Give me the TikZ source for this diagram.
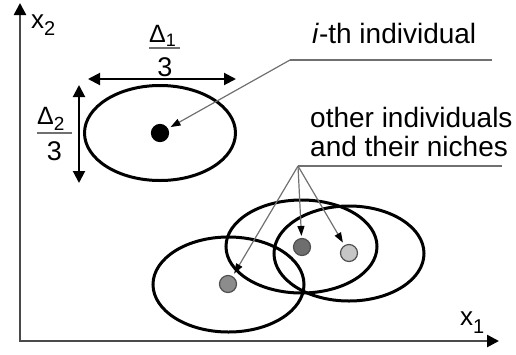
\documentclass[tikz,border=0pt]{standalone}
\usepackage{fontspec}
\setmainfont{Liberation Sans}
\usetikzlibrary{arrows.meta}
\definecolor{axisgray}{HTML}{4A4A4A}
\definecolor{leadgray}{HTML}{707070}
\definecolor{dotA}{HTML}{8C8C8C}
\definecolor{dotB}{HTML}{6E6E6E}
\definecolor{dotC}{HTML}{C6C6C6}
\definecolor{dotline}{HTML}{505050}
\begin{document}
\begin{tikzpicture}[x=1pt,y=-1pt,
  bigtip/.tip={Triangle[length=12pt,width=12pt,color=black]},
  smalltip/.tip={Triangle[length=10pt,width=7pt,color=black]},
  axisline/.style={line width=2.5pt, draw=axisgray, bigtip-bigtip, line join=miter},
  dimarrow/.style={line width=2pt, draw=black, bigtip-bigtip},
  leader/.style={line width=1.2pt, draw=leadgray},
  niche/.style={line width=3pt, draw=black},
  lbl/.style={inner sep=0pt, font=\fontsize{28}{29}\selectfont},
  axlbl/.style={inner sep=0pt, font=\fontsize{26}{26}\selectfont},
  fraclbl/.style={inner sep=0pt, font=\fontsize{25}{25}\selectfont},
  fracden/.style={inner sep=0pt, font=\fontsize{27}{27}\selectfont},
  fracbar/.style={line width=1.2pt, draw=leadgray},
  dot/.style={circle, inner sep=0pt, minimum size=17pt, line width=1.2pt, draw=dotline}
]
\useasboundingbox (0,0) rectangle (516,354);

% axes
\coordinate (ytop) at (20,3);
\coordinate (O) at (20,341);
\coordinate (xend) at (499,341);
\draw[axisline] (ytop) -- (O) -- (xend);
\node[axlbl, anchor=base west] (lx2) at (31,28) {x\raisebox{-7pt}{\fontsize{20}{20}\selectfont 2}};
\node[axlbl, anchor=base west] (lx1) at (460,325) {x\raisebox{-8pt}{\fontsize{20}{20}\selectfont 1}};

% i-th individual niche
\draw[niche] (160,133) ellipse [x radius=75.5pt, y radius=47.5pt];
\node[dot, fill=black, draw=black] (idot) at (160,133) {};

% dimension arrows
\coordinate (hL) at (88,79);
\coordinate (hR) at (236,79);
\draw[dimarrow] (hL) -- (hR);
\coordinate (vT) at (79,85);
\coordinate (vB) at (79,183);
\draw[dimarrow] (vT) -- (vB);

% fraction Delta1/3
\node[fraclbl, anchor=base west] (d1num) at (149,42) {Δ\raisebox{-4pt}{\fontsize{18}{18}\selectfont 1}};
\coordinate (b1L) at (149,48);
\coordinate (b1R) at (180,48);
\draw[fracbar] (b1L) -- (b1R);
\node[fracden, anchor=base] (d1den) at (165,76) {3};

% fraction Delta2/3
\node[fraclbl, anchor=base west] (d2num) at (37,124) {Δ\raisebox{-6pt}{\fontsize{19}{19}\selectfont 2}};
\coordinate (b2L) at (37,133);
\coordinate (b2R) at (72,133);
\draw[fracbar] (b2L) -- (b2R);
\node[fracden, anchor=base] (d2den) at (54.5,160) {3};

% other niches
\draw[niche] (228.5,284.5) ellipse [x radius=75.5pt, y radius=47.5pt];
\draw[niche] (301.5,246.5) ellipse [x radius=75.5pt, y radius=46.5pt];
\draw[niche] (349,253.5) ellipse [x radius=75pt, y radius=47.5pt];
\node[dot, fill=dotA] (dA) at (228,284) {};
\node[dot, fill=dotB] (dB) at (302,247) {};
\node[dot, fill=dotC] (dC) at (349,253) {};

% labels
\node[lbl, anchor=base west] (ith) at (312,43) {\textit{i}-th individual};
\node[lbl, anchor=north west, align=left] (oth) at (310,107) {other individuals\\and their niches};

% leaders
\coordinate (iR) at (492,60);
\coordinate (iL) at (290,60);
\draw[leader] (iR) -- (iL);
\draw[leader, -smalltip, shorten >=3pt] (iL) -- (idot);
\coordinate (oR) at (502,166);
\coordinate (oL) at (298,166);
\draw[leader] (oR) -- (oL);
\draw[leader, -smalltip, shorten >=3pt] (oL) -- (dA);
\draw[leader, -smalltip, shorten >=2pt] (oL) -- (dB);
\draw[leader, -smalltip, shorten >=3pt] (oL) -- (dC);
\end{tikzpicture}
\end{document}
